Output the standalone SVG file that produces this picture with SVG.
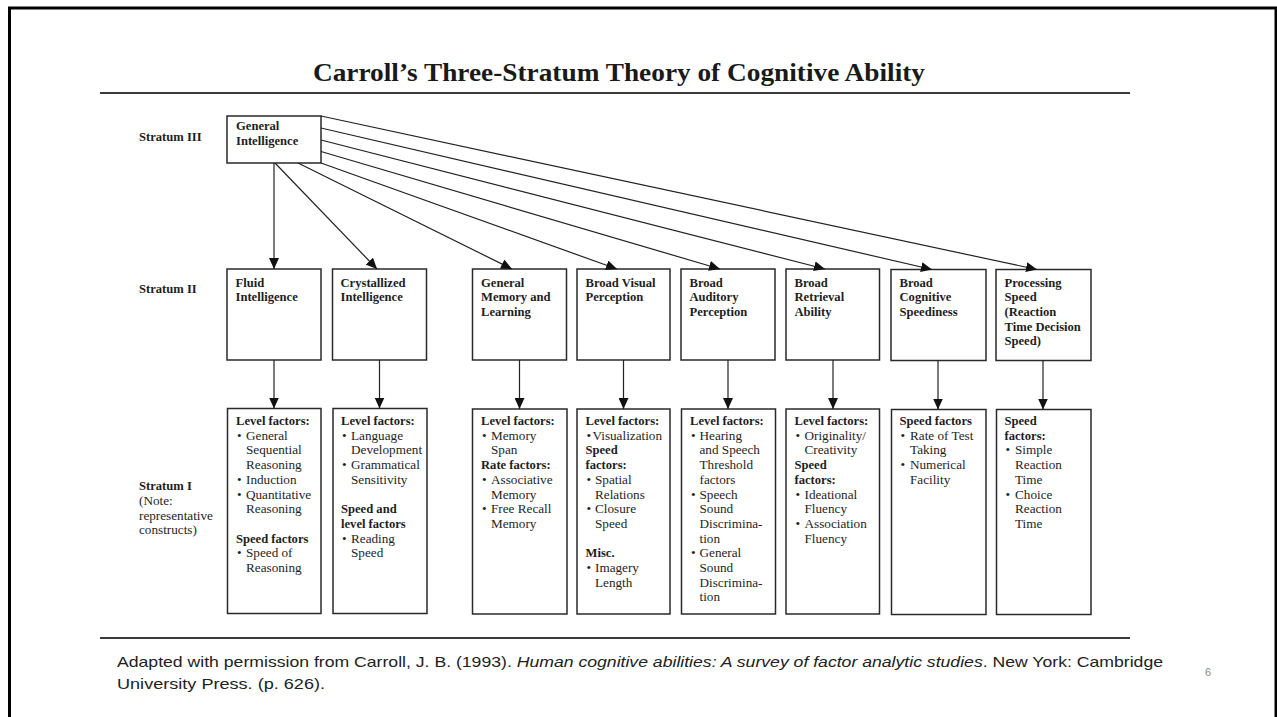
<svg xmlns="http://www.w3.org/2000/svg" width="1277" height="717" viewBox="0 0 1277 717">
<defs>
<style>
.box{fill:#fff;stroke:#2a2a2a;stroke-width:1.5}
.t{font-family:"Liberation Serif","Times New Roman",serif;font-size:13.2px;fill:#1e1e1e}
.b{font-weight:bold;font-size:12.6px}
.rule{stroke:#3a3a3a;stroke-width:1.8;fill:none}
.con{stroke:#222;stroke-width:1.2;fill:none;marker-end:url(#ah)}
.foot{font-family:"Liberation Sans",Arial,sans-serif;font-size:14.5px;fill:#222}
</style>
<marker id="ah" markerUnits="userSpaceOnUse" markerWidth="11" markerHeight="10" refX="11" refY="5" orient="auto">
<path d="M0,0 L11,5 L0,10 z" fill="#111"/>
</marker>
</defs>
<rect width="1277" height="717" fill="#fff"/>
<path d="M9.5,717 V8 H1276 V717" fill="none" stroke="#000" stroke-width="3"/>

<text x="619" y="81" text-anchor="middle" textLength="612" lengthAdjust="spacingAndGlyphs" style="font-family:'Liberation Serif','Times New Roman',serif;font-weight:bold;font-size:25px;fill:#1a1a1a">Carroll’s Three-Stratum Theory of Cognitive Ability</text>
<line class="rule" x1="100" y1="93" x2="1130" y2="93"/>
<line class="rule" x1="100" y1="638" x2="1130" y2="638"/>

<g id="stratum-labels">
<text class="t b" x="139" y="141">Stratum III</text>
<text class="t b" x="139" y="293">Stratum II</text>
<text class="t b" x="139" y="490">Stratum I</text>
<text class="t" x="139" y="505">(Note:</text>
<text class="t" x="139" y="519.5">representative</text>
<text class="t" x="139" y="534">constructs)</text>
</g>

<g id="node-general-intelligence">
<rect class="box" x="227" y="116" width="94" height="47"/>
<text class="t b" x="236" y="130">General</text>
<text class="t b" x="236" y="145">Intelligence</text>
</g>

<g id="node-fluid">
<rect class="box" x="227" y="269" width="94" height="91"/>
<text class="t b" x="235.5" y="286.5">Fluid</text>
<text class="t b" x="235.5" y="301.2">Intelligence</text>
</g>
<g id="node-crystallized">
<rect class="box" x="332.5" y="269" width="94" height="91"/>
<text class="t b" x="340.5" y="286.5">Crystallized</text>
<text class="t b" x="340.5" y="301.2">Intelligence</text>
</g>
<g id="node-memory">
<rect class="box" x="472.5" y="269" width="94" height="91"/>
<text class="t b" x="481" y="286.5">General</text>
<text class="t b" x="481" y="301.2">Memory and</text>
<text class="t b" x="481" y="315.9">Learning</text>
</g>
<g id="node-visual">
<rect class="box" x="577" y="269" width="93" height="91"/>
<text class="t b" x="585.5" y="286.5">Broad Visual</text>
<text class="t b" x="585.5" y="301.2">Perception</text>
</g>
<g id="node-auditory">
<rect class="box" x="681" y="269" width="94" height="91"/>
<text class="t b" x="689.5" y="286.5">Broad</text>
<text class="t b" x="689.5" y="301.2">Auditory</text>
<text class="t b" x="689.5" y="315.9">Perception</text>
</g>
<g id="node-retrieval">
<rect class="box" x="786" y="269" width="93.5" height="91"/>
<text class="t b" x="794.5" y="286.5">Broad</text>
<text class="t b" x="794.5" y="301.2">Retrieval</text>
<text class="t b" x="794.5" y="315.9">Ability</text>
</g>
<g id="node-cognitive-speediness">
<rect class="box" x="891" y="269.5" width="95" height="91"/>
<text class="t b" x="899.5" y="286.5">Broad</text>
<text class="t b" x="899.5" y="301.2">Cognitive</text>
<text class="t b" x="899.5" y="315.9">Speediness</text>
</g>
<g id="node-processing-speed">
<rect class="box" x="996" y="269.5" width="95" height="91"/>
<text class="t b" x="1004.5" y="286.5">Processing</text>
<text class="t b" x="1004.5" y="301.2">Speed</text>
<text class="t b" x="1004.5" y="315.9">(Reaction</text>
<text class="t b" x="1004.5" y="330.6">Time Decision</text>
<text class="t b" x="1004.5" y="345.3">Speed)</text>
</g>

<g id="node-fluid-factors">
<rect class="box" x="227.5" y="408.5" width="93.5" height="205"/>
<text class="t b" x="236" y="425">Level factors:</text>
<text class="t" x="237" y="439.7">•</text><text class="t" x="246" y="439.7">General</text>
<text class="t" x="246" y="454.4">Sequential</text>
<text class="t" x="246" y="469.1">Reasoning</text>
<text class="t" x="237" y="483.8">•</text><text class="t" x="246" y="483.8">Induction</text>
<text class="t" x="237" y="498.5">•</text><text class="t" x="246" y="498.5">Quantitative</text>
<text class="t" x="246" y="513.2">Reasoning</text>
<text class="t b" x="236" y="542.6">Speed factors</text>
<text class="t" x="237" y="557.3">•</text><text class="t" x="246" y="557.3">Speed of</text>
<text class="t" x="246" y="572">Reasoning</text>
</g>
<g id="node-crystallized-factors">
<rect class="box" x="333" y="408.5" width="94" height="205"/>
<text class="t b" x="341" y="425">Level factors:</text>
<text class="t" x="342" y="439.7">•</text><text class="t" x="351" y="439.7">Language</text>
<text class="t" x="351" y="454.4">Development</text>
<text class="t" x="342" y="469.1">•</text><text class="t" x="351" y="469.1">Grammatical</text>
<text class="t" x="351" y="483.8">Sensitivity</text>
<text class="t b" x="341" y="513.2">Speed and</text>
<text class="t b" x="341" y="527.9">level factors</text>
<text class="t" x="342" y="542.6">•</text><text class="t" x="351" y="542.6">Reading</text>
<text class="t" x="351" y="557.3">Speed</text>
</g>
<g id="node-memory-factors">
<rect class="box" x="472.5" y="409" width="94.5" height="205"/>
<text class="t b" x="481" y="425">Level factors:</text>
<text class="t" x="482" y="439.7">•</text><text class="t" x="491" y="439.7">Memory</text>
<text class="t" x="491" y="454.4">Span</text>
<text class="t b" x="481" y="469.1">Rate factors:</text>
<text class="t" x="482" y="483.8">•</text><text class="t" x="491" y="483.8">Associative</text>
<text class="t" x="491" y="498.5">Memory</text>
<text class="t" x="482" y="513.2">•</text><text class="t" x="491" y="513.2">Free Recall</text>
<text class="t" x="491" y="527.9">Memory</text>
</g>
<g id="node-visual-factors">
<rect class="box" x="577" y="409" width="93" height="205"/>
<text class="t b" x="585.5" y="425">Level factors:</text>
<text class="t" x="586.5" y="439.7">•</text><text class="t" x="592.5" y="439.7">Visualization</text>
<text class="t b" x="585.5" y="454.4">Speed</text>
<text class="t b" x="585.5" y="469.1">factors:</text>
<text class="t" x="586.5" y="483.8">•</text><text class="t" x="595" y="483.8">Spatial</text>
<text class="t" x="595" y="498.5">Relations</text>
<text class="t" x="586.5" y="513.2">•</text><text class="t" x="595" y="513.2">Closure</text>
<text class="t" x="595" y="527.9">Speed</text>
<text class="t b" x="585.5" y="557.3">Misc.</text>
<text class="t" x="586.5" y="572">•</text><text class="t" x="595" y="572">Imagery</text>
<text class="t" x="595" y="586.7">Length</text>
</g>
<g id="node-auditory-factors">
<rect class="box" x="681.5" y="409" width="94" height="205"/>
<text class="t b" x="690" y="425">Level factors:</text>
<text class="t" x="691" y="439.7">•</text><text class="t" x="699.5" y="439.7">Hearing</text>
<text class="t" x="699.5" y="454.4">and Speech</text>
<text class="t" x="699.5" y="469.1">Threshold</text>
<text class="t" x="699.5" y="483.8">factors</text>
<text class="t" x="691" y="498.5">•</text><text class="t" x="699.5" y="498.5">Speech</text>
<text class="t" x="699.5" y="513.2">Sound</text>
<text class="t" x="699.5" y="527.9">Discrimina-</text>
<text class="t" x="699.5" y="542.6">tion</text>
<text class="t" x="691" y="557.3">•</text><text class="t" x="699.5" y="557.3">General</text>
<text class="t" x="699.5" y="572">Sound</text>
<text class="t" x="699.5" y="586.7">Discrimina-</text>
<text class="t" x="699.5" y="601.4">tion</text>
</g>
<g id="node-retrieval-factors">
<rect class="box" x="786" y="409" width="93.5" height="205"/>
<text class="t b" x="794.5" y="425">Level factors:</text>
<text class="t" x="795.5" y="439.7">•</text><text class="t" x="804.5" y="439.7">Originality/</text>
<text class="t" x="804.5" y="454.4">Creativity</text>
<text class="t b" x="794.5" y="469.1">Speed</text>
<text class="t b" x="794.5" y="483.8">factors:</text>
<text class="t" x="795.5" y="498.5">•</text><text class="t" x="804.5" y="498.5">Ideational</text>
<text class="t" x="804.5" y="513.2">Fluency</text>
<text class="t" x="795.5" y="527.9">•</text><text class="t" x="804.5" y="527.9">Association</text>
<text class="t" x="804.5" y="542.6">Fluency</text>
</g>
<g id="node-speediness-factors">
<rect class="box" x="891.5" y="409.5" width="94.5" height="205"/>
<text class="t b" x="899.5" y="425">Speed factors</text>
<text class="t" x="900.5" y="439.7">•</text><text class="t" x="910" y="439.7">Rate of Test</text>
<text class="t" x="910" y="454.4">Taking</text>
<text class="t" x="900.5" y="469.1">•</text><text class="t" x="910" y="469.1">Numerical</text>
<text class="t" x="910" y="483.8">Facility</text>
</g>
<g id="node-processing-factors">
<rect class="box" x="996.5" y="409.5" width="94.5" height="205"/>
<text class="t b" x="1004.5" y="425">Speed</text>
<text class="t b" x="1004.5" y="439.7">factors:</text>
<text class="t" x="1005.5" y="454.4">•</text><text class="t" x="1015" y="454.4">Simple</text>
<text class="t" x="1015" y="469.1">Reaction</text>
<text class="t" x="1015" y="483.8">Time</text>
<text class="t" x="1005.5" y="498.5">•</text><text class="t" x="1015" y="498.5">Choice</text>
<text class="t" x="1015" y="513.2">Reaction</text>
<text class="t" x="1015" y="527.9">Time</text>
</g>

<g id="connectors">
<line class="con" x1="274" y1="163" x2="274" y2="269"/>
<line class="con" x1="275" y1="163" x2="377" y2="269"/>
<line class="con" x1="298" y1="163" x2="512" y2="269"/>
<line class="con" x1="321" y1="163" x2="617" y2="269"/>
<line class="con" x1="321" y1="151.5" x2="720" y2="269"/>
<line class="con" x1="321" y1="140" x2="825" y2="269"/>
<line class="con" x1="321" y1="128" x2="932" y2="269.5"/>
<line class="con" x1="321" y1="116" x2="1037" y2="269.5"/>
<line class="con" x1="274" y1="360" x2="274" y2="408.5"/>
<line class="con" x1="379.5" y1="360" x2="379.5" y2="408.5"/>
<line class="con" x1="519.5" y1="360" x2="519.5" y2="409"/>
<line class="con" x1="623.5" y1="360" x2="623.5" y2="409"/>
<line class="con" x1="728" y1="360" x2="728" y2="409"/>
<line class="con" x1="833" y1="360" x2="833" y2="409"/>
<line class="con" x1="938" y1="360.5" x2="938" y2="409.5"/>
<line class="con" x1="1043" y1="360.5" x2="1043" y2="409.5"/>
</g>

<g id="footer">
<text class="foot" x="117" y="667" textLength="1046" lengthAdjust="spacingAndGlyphs">Adapted with permission from Carroll, J. B. (1993). <tspan font-style="italic">Human cognitive abilities: A survey of factor analytic studies</tspan>. New York: Cambridge</text>
<text class="foot" x="117" y="689" textLength="208" lengthAdjust="spacingAndGlyphs">University Press. (p. 626).</text>
<text x="1205" y="676" style="font-family:'Liberation Sans',Arial,sans-serif;font-size:11px;fill:#8a8a8a">6</text>
</g>
</svg>
